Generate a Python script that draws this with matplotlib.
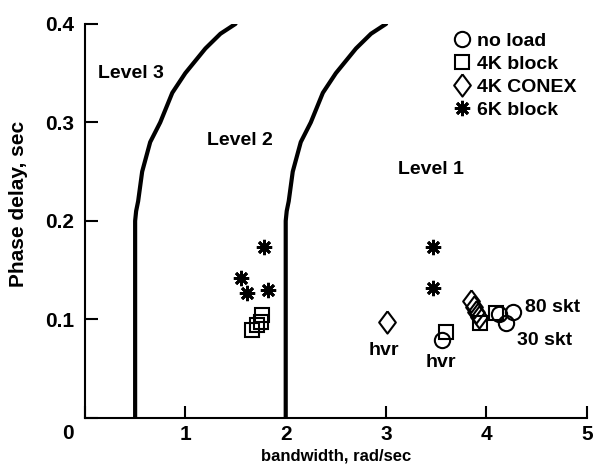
import matplotlib.pyplot as plt
from matplotlib.lines import Line2D

plt.rcParams['font.family'] = ['Liberation Sans', 'DejaVu Sans']
plt.rcParams['font.weight'] = 'bold'
plt.rcParams['axes.labelweight'] = 'bold'

# граница Level 3 / Level 2
lvl3_x = [0.5, 0.5, 0.51, 0.53, 0.57, 0.65, 0.75, 0.87, 1.0, 1.2, 1.35, 1.5]
lvl3_y = [0.0, 0.2, 0.21, 0.22, 0.25, 0.28, 0.30, 0.33, 0.35, 0.375, 0.39, 0.4]
# граница Level 2 / Level 1
lvl2_x = [2.0, 2.0, 2.01, 2.03, 2.07, 2.15, 2.25, 2.37, 2.5, 2.7, 2.85, 3.0]
lvl2_y = [0.0, 0.2, 0.21, 0.22, 0.25, 0.28, 0.30, 0.33, 0.35, 0.375, 0.39, 0.4]

# точки
noload_bw = [3.56, 4.12, 4.19, 4.26]
noload_pd = [0.079, 0.105, 0.096, 0.108]
blk4_bw = [1.66, 1.71, 1.76, 1.75, 3.60, 3.94, 4.09]
blk4_pd = [0.089, 0.094, 0.104, 0.097, 0.087, 0.096, 0.107]
conex_bw = [3.01, 3.85, 3.88, 3.90, 3.93]
conex_pd = [0.097, 0.119, 0.113, 0.108, 0.102]
blk6_bw = [1.78, 1.55, 1.61, 1.82, 3.47, 3.47]
blk6_pd = [0.173, 0.142, 0.127, 0.130, 0.173, 0.132]

# ромб пошире стандартного 'd'
diamond = [(0, 1), (0.75, 0), (0, -1), (-0.75, 0), (0, 1)]

fig = plt.figure(figsize=(5.94, 4.68), dpi=100)
ax = fig.add_axes([0.143, 0.107, 0.845, 0.842])

ax.plot(lvl3_x, lvl3_y, 'k-', lw=3, solid_capstyle='round')
ax.plot(lvl2_x, lvl2_y, 'k-', lw=3, solid_capstyle='round')

st_o = dict(marker='o', ms=11, mfc='none', mec='k', mew=1.5, ls='none')
st_s = dict(marker='s', ms=9.5, mfc='none', mec='k', mew=1.5, ls='none')
st_d = dict(marker=diamond, ms=16, mfc='none', mec='k', mew=1.5, ls='none')
st_a = dict(marker=(8, 2, 0), ms=11, mec='k', mew=2, ls='none')

ax.plot(noload_bw, noload_pd, **st_o)
ax.plot(blk4_bw, blk4_pd, **st_s)
ax.plot(conex_bw, conex_pd, **st_d)
ax.plot(blk6_bw, blk6_pd, **st_a)

fs = 14
ax.text(0.46, 0.35, 'Level 3', ha='center', va='center', fontsize=fs)
ax.text(1.54, 0.282, 'Level 2', ha='center', va='center', fontsize=fs)
ax.text(3.45, 0.252, 'Level 1', ha='center', va='center', fontsize=fs)
ax.text(2.98, 0.068, 'hvr', ha='center', va='center', fontsize=fs)
ax.text(3.55, 0.056, 'hvr', ha='center', va='center', fontsize=fs)
ax.text(4.38, 0.112, '80 skt', ha='left', va='center', fontsize=fs)
ax.text(4.30, 0.079, '30 skt', ha='left', va='center', fontsize=fs)

# легенда
handles = [Line2D([], [], **st_o), Line2D([], [], **st_s),
           Line2D([], [], **st_d), Line2D([], [], **st_a)]
labels = ['no load', '4K block', '4K CONEX', '6K block']
fig.legend(handles, labels, loc='upper left', bbox_to_anchor=(452 / 594, 1 - 32 / 468),
           frameon=False, fontsize=fs, handletextpad=0.3, labelspacing=0.28,
           borderpad=0, borderaxespad=0, handlelength=1.0)

ax.set_xlim(0, 5)
ax.set_ylim(0, 0.4)
ax.set_xticks([0, 1, 2, 3, 4, 5])
ax.set_xticklabels(['', '1', '2', '3', '4', '5'])
ax.set_yticks([0, 0.1, 0.2, 0.3, 0.4])
ax.set_yticklabels(['', '0.1', '0.2', '0.3', '0.4'])
ax.tick_params(direction='in', length=9, width=1.5, labelsize=15, pad=8)
ax.tick_params(axis='x', pad=5)
ax.text(-0.17, -0.016, '0', ha='center', va='center', fontsize=15)

for s in ['top', 'right']:
    ax.spines[s].set_visible(False)
for s in ['left', 'bottom']:
    ax.spines[s].set_linewidth(1.5)

ax.set_xlabel('bandwidth, rad/sec', fontsize=12)
ax.set_ylabel('Phase delay, sec', fontsize=15)
ax.xaxis.set_label_coords(0.5, -0.078)
ax.yaxis.set_label_coords(-0.114, 0.543)

fig.savefig('out.png', dpi=100)
